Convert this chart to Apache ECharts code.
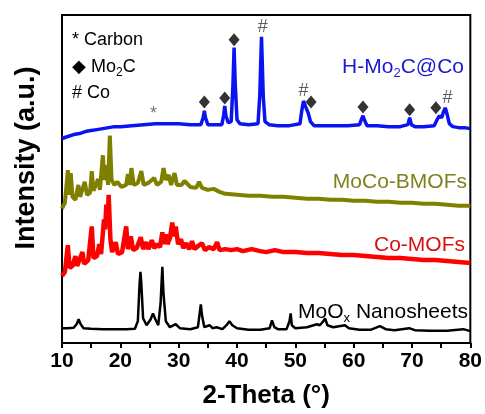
<!DOCTYPE html>
<html><head><meta charset="utf-8">
<script src="https://cdn.jsdelivr.net/npm/echarts@6/dist/echarts.min.js"></script>
<style>html,body{margin:0;padding:0;background:#fff}#c{width:485px;height:414px}</style>
</head><body><div id="c"></div>
<script>
// X ticks
var xTicks = [10, 20, 30, 40, 50, 60, 70, 80];
// Series names
var names = ['H-Mo2C@Co', 'MoCo-BMOFs', 'Co-MOFs', 'MoOx Nanosheets'];
// H-Mo2C@Co (offset intensity, a.u.)
var blue = [[10,207],[11,209],[12,211],[13,212],[14,214],[15,215],[16,216],[17,217],[18,218],[19,219],[20,219],[22,220],[24,221],[26,222],[28,222],[30,222],[32,221],[33.8,221],[34.2,228],[34.4,235],[34.6,228],[35,221],[36,221],[37.4,221],[37.7,230],[37.9,240],[38.1,230],[38.5,223],[39.0,224],[39.3,260],[39.5,299],[39.7,262],[40.0,226],[40.5,222],[42,221],[43.6,222],[43.9,250],[44.2,310],[44.5,250],[44.8,224],[45.5,221],[47,220],[49,220],[50.8,222],[51.1,235],[51.4,245],[51.7,240],[52.2,233],[52.6,224],[53.2,220],[55,220],[57,220],[59,220],[61.0,221],[61.3,226],[61.6,230],[61.9,225],[62.3,220],[64,220],[66,219],[68,219],[69.3,221],[69.6,228],[69.9,221],[70.5,219],[72,219],[73.8,220],[74.3,226],[74.7,230],[75.1,228],[75.4,234],[75.7,238],[76.0,232],[76.4,222],[77,219],[78,218],[79,218],[80,217]];
// MoCo-BMOFs
var olive = [[10,136],[10.5,142],[11.0,175],[11.3,150],[11.5,172],[11.8,148],[12.3,145],[12.8,160],[13.1,148],[13.9,163],[14.3,150],[14.8,152],[15.1,174],[15.4,154],[16.2,166],[16.5,155],[17.0,190],[17.3,165],[17.6,180],[17.9,160],[18.2,210],[18.5,165],[19.0,160],[19.5,163],[20.2,158],[21.0,160],[21.3,171],[21.6,160],[21.9,177],[22.3,160],[23.0,162],[23.6,174],[24.0,160],[24.8,162],[25.8,167],[26.3,160],[27.0,163],[27.4,177],[27.8,165],[28.3,170],[28.7,160],[29.3,172],[29.7,160],[30.5,160],[31.0,164],[32,158],[33.0,157],[33.5,163],[34,157],[35,155],[36,156],[37,153],[38,151],[40,150],[42,149],[44,149],[46,148],[48,148],[50,147],[52,146],[54,146],[56,145],[58,145],[60,144],[62,144],[64,143],[66,143],[68,142],[70,142],[72,141],[74,141],[76,140],[78,139],[80,139]];
// Co-MOFs
var red = [[10,68],[10.5,72],[11.0,99],[11.3,76],[11.8,78],[12.3,88],[12.6,78],[13.5,92],[13.8,80],[14.5,84],[15.1,118],[15.4,86],[16.0,88],[16.4,100],[16.7,90],[17.2,125],[17.4,115],[17.6,140],[17.8,118],[18.0,150],[18.3,105],[18.6,92],[19.2,102],[19.6,90],[20.3,92],[21.0,118],[21.3,95],[21.8,108],[22.2,94],[22.8,96],[23.5,107],[23.9,95],[24.4,102],[24.8,95],[25.4,104],[25.8,96],[26.3,100],[26.8,97],[27.2,112],[27.5,100],[27.8,110],[28.1,100],[28.5,106],[28.9,122],[29.2,108],[29.5,118],[29.9,100],[30.4,105],[30.8,96],[31.3,101],[31.8,95],[32.3,103],[32.7,95],[33.3,98],[34.0,101],[34.5,94],[35.2,97],[36.0,95],[36.6,102],[37.0,94],[38,95],[39,94],[40,95],[41,93],[42.5,95],[44,93],[45,92],[46.5,94],[48,92],[50,92],[52,91],[54,91],[56,90],[58,89],[60,89],[62,88],[64,87],[66,86],[68,86],[70,85],[72,84],[74,84],[76,83],[78,82],[80,81]];
// MoOx Nanosheets
var black = [[10,15],[11,15],[12,15.5],[12.5,19],[12.85,24],[13.2,19],[13.7,15],[15,14.5],[17,14],[19,14],[21,14],[22.5,14.5],[23.0,22],[23.3,60],[23.45,72],[23.6,60],[23.9,25],[24.5,18],[25.2,24],[25.6,30],[26.0,24],[26.5,18],[26.9,40],[27.2,77],[27.4,50],[27.8,22],[28.5,16],[29.5,19],[30.2,15],[32,14],[33.3,16],[33.6,30],[33.8,39],[34.0,28],[34.4,16],[35.3,18],[35.8,15],[36.5,16],[37.5,14],[38.2,18],[38.7,22],[39.2,18],[40,15],[42,13.5],[44,13.5],[45.6,15],[46.0,23],[46.4,16],[47,14],[48.5,14],[49.0,22],[49.2,30],[49.4,18],[50,15],[52,16],[53.7,19],[54.2,18],[54.8,22],[55.1,25],[55.5,18],[56.5,16],[57.5,17],[58.5,18],[59.2,15],[61,13.5],[63,13.5],[64.5,17],[65.5,14],[67,13],[69.5,15],[70.5,13],[73,12.5],[76,12.5],[78.8,14],[80,12]];
// phase markers
var mo2cMarks = [[34.4,244],[37.9,248],[39.5,307],[52.7,244],[61.6,239],[69.6,236],[74.1,238]];
var coMarks = [[44.4,320],[51.4,255],[76.1,248]];
var carbonMarks = [[25.7,232]];

var chart = echarts.init(document.getElementById('c'));
var FF = '"Liberation Sans", Arial, sans-serif';
function sub(col, big, small, lh) {
  return {n: {fontSize: big, fontFamily: FF, fill: col, lineHeight: lh},
          s: {fontSize: small, fontFamily: FF, fill: col, lineHeight: lh, verticalAlign: 'bottom'}};
}
chart.setOption({
  animation: false,
  grid: {left: 62, right: 12, top: 15, bottom: 67, show: true, borderColor: '#000', borderWidth: 2, backgroundColor: 'transparent'},
  xAxis: {
    type: 'value', min: 10, max: 80, interval: 10,
    axisLine: {show: true, lineStyle: {color: '#000', width: 2}},
    axisTick: {show: true, inside: false, length: 5, lineStyle: {color: '#000', width: 2}},
    minorTick: {show: true, splitNumber: 2, length: 5, lineStyle: {color: '#000', width: 2}},
    splitLine: {show: false},
    axisLabel: {fontSize: 21, fontWeight: 'bold', color: '#000', fontFamily: FF, margin: 8,
      formatter: function (v) { return xTicks.indexOf(v) >= 0 ? String(v) : ''; }},
    name: '2-Theta (°)', nameLocation: 'middle', nameGap: 40,
    nameTextStyle: {fontSize: 26, fontWeight: 'bold', color: '#000', fontFamily: FF}
  },
  yAxis: {
    type: 'value', min: 0, max: 332,
    axisLine: {show: true, lineStyle: {color: '#000', width: 2}},
    axisTick: {show: false}, axisLabel: {show: false}, splitLine: {show: false}
  },
  series: [
    {name: names[0], type: 'line', data: blue, symbol: 'none', lineStyle: {color: '#0a14f0', width: 3.5}},
    {name: names[1], type: 'line', data: olive, symbol: 'none', lineStyle: {color: '#808000', width: 4}},
    {name: names[2], type: 'line', data: red, symbol: 'none', lineStyle: {color: '#ff0000', width: 4.5}},
    {name: names[3], type: 'line', data: black, symbol: 'none', lineStyle: {color: '#000', width: 2.5}},
    {type: 'scatter', data: mo2cMarks, symbol: 'diamond', symbolSize: [11, 13], itemStyle: {color: '#000'}, z: 5},
    {type: 'scatter', data: coMarks, symbol: 'circle', symbolSize: 1, itemStyle: {color: 'rgba(0,0,0,0)'}, z: 5,
      label: {show: true, position: 'inside', formatter: '#', fontSize: 18, color: '#333', fontFamily: FF}},
    {type: 'scatter', data: carbonMarks, symbol: 'circle', symbolSize: 1, itemStyle: {color: 'rgba(0,0,0,0)'}, z: 5,
      label: {show: true, position: 'inside', formatter: '*', fontSize: 18, color: '#555', fontFamily: FF}}
  ],
  graphic: [
    {type: 'text', x: 72, y: 40, style: {text: '* Carbon', font: '18px ' + FF, fill: '#000', verticalAlign: 'middle'}},
    {type: 'text', x: 72, y: 67, style: {text: '{n|◆ Mo}{s|2}{n|C}', rich: sub('#000', 18, 12, 24), verticalAlign: 'middle'}},
    {type: 'text', x: 72, y: 93, style: {text: '# Co', font: '18px ' + FF, fill: '#000', verticalAlign: 'middle'}},
    {type: 'text', x: 464, y: 67, style: {text: '{n|H-Mo}{s|2}{n|C@Co}', rich: sub('#1a1ad0', 21, 13, 26), align: 'right', verticalAlign: 'middle'}},
    {type: 'text', x: 467, y: 182, style: {text: 'MoCo-BMOFs', font: '21px ' + FF, fill: '#808020', align: 'right', verticalAlign: 'middle'}},
    {type: 'text', x: 465, y: 245, style: {text: 'Co-MOFs', font: '21px ' + FF, fill: '#d81010', align: 'right', verticalAlign: 'middle'}},
    {type: 'text', x: 468, y: 312, style: {text: '{n|MoO}{s|x}{n| Nanosheets}', rich: sub('#000', 21, 13, 26), align: 'right', verticalAlign: 'middle'}},
    {type: 'text', x: 27, y: 158, rotation: Math.PI / 2,
      style: {text: 'Intensity (a.u.)', font: 'bold 27px ' + FF, fill: '#000', align: 'center', verticalAlign: 'middle'}}
  ]
});
</script></body></html>
